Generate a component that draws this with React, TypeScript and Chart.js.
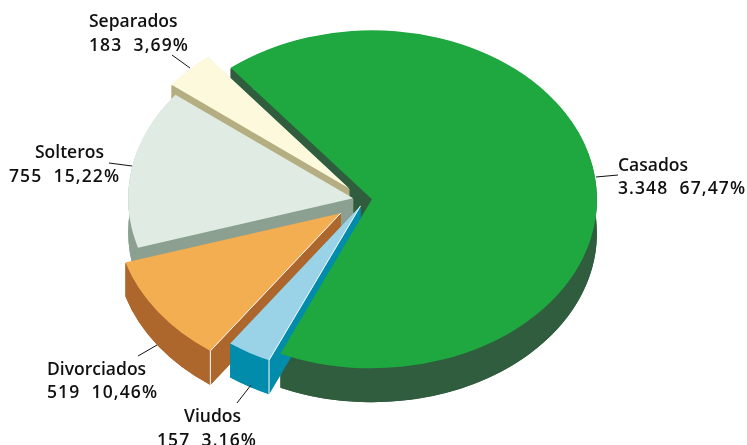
import React, { useEffect, useRef } from "react";
import { Chart, registerables } from "chart.js";

Chart.register(...registerables);

const categories = ["Casados", "Viudos", "Divorciados", "Solteros", "Separados"];
const values = [3348, 157, 519, 755, 183];
const countLabels = ["3.348", "157", "519", "755", "183"];
const percentLabels = ["67,47%", "3,16%", "10,46%", "15,22%", "3,69%"];
const faceColors = ["#1fa83f", "#9ad3e8", "#f4ae52", "#e0ece3", "#fdf9dc"];
const wallColors = ["#2f5d3e", "#008caa", "#ad662b", "#8ba090", "#b5ae82"];
const explode = [7, 9, 30, 12, 22];

const RADIUS = 225;
const TILT = 0.751;
const DEPTH = 34;
const FONT = '600 17.5px "Open Sans"';

// label placement: second-line x, first baseline, second baseline, first-line x
const labelPlaces: [number, number, number, number][] = [
  [618, 171, 194, 618],
  [157, 422, 446, 184],
  [47, 375, 398, 47],
  [9, 158, 182, 35],
  [89, 27, 51, 89],
];
const leaders = [
  [596, 177, 618, 175],
  [237, 403, 251, 385],
  [138, 356, 157, 345],
  [109, 163, 132, 166],
  [172, 55, 190, 68],
];

const pie3d = {
  id: "pie3d",
  beforeDatasetsDraw(chart: any) {
    const ctx = chart.ctx;
    const arcs = chart.getDatasetMeta(0).data;
    const cy = arcs[0].y;

    const tilted = (fn: () => void) => {
      ctx.save();
      ctx.translate(0, cy);
      ctx.scale(1, TILT);
      ctx.translate(0, -cy);
      fn();
      ctx.restore();
    };
    const shift = (a: any, i: number) => {
      const mid = (a.startAngle + a.endAngle) / 2;
      return [a.x + Math.cos(mid) * explode[i], a.y + Math.sin(mid) * explode[i]];
    };
    const wall = (i: number) => {
      const a = arcs[i];
      const [x, y] = shift(a, i);
      const top = 0.6 / TILT;
      const low = DEPTH / TILT;
      tilted(() => {
        ctx.fillStyle = wallColors[i];
        // bottom sector
        ctx.beginPath();
        ctx.moveTo(x, y + low);
        ctx.arc(x, y + low, RADIUS, a.startAngle, a.endAngle);
        ctx.closePath();
        ctx.fill();
        // outer curved band
        ctx.beginPath();
        ctx.arc(x, y + top, RADIUS, a.startAngle, a.endAngle);
        ctx.arc(x, y + low, RADIUS, a.endAngle, a.startAngle, true);
        ctx.closePath();
        ctx.fill();
        // the two radial cut faces
        for (const ang of [a.startAngle, a.endAngle]) {
          const ex = x + Math.cos(ang) * RADIUS;
          const ey = y + Math.sin(ang) * RADIUS;
          ctx.beginPath();
          ctx.moveTo(x, y + top);
          ctx.lineTo(ex, ey + top);
          ctx.lineTo(ex, ey + low);
          ctx.lineTo(x, y + low);
          ctx.closePath();
          ctx.fill();
        }
      });
    };
    const face = (i: number) => {
      const a = arcs[i];
      const { startAngle, endAngle } = a;
      const fix = 1 - Math.sin(Math.min(Math.PI, a.circumference));
      const grow = explode[i] * fix;
      // the arc element grows and narrows itself when offset; undo that
      const widen = grow / (Math.PI * RADIUS) / 2;
      a.outerRadius = RADIUS - grow;
      a.innerRadius = 0;
      a.startAngle = startAngle - widen;
      a.endAngle = endAngle + widen;
      tilted(() => a.draw(ctx));
      a.startAngle = startAngle;
      a.endAngle = endAngle;
    };
    const rim = (i: number) => {
      const a = arcs[i];
      const [x, y] = shift(a, i);
      const ex = x + Math.cos(a.startAngle) * RADIUS;
      const ey = cy + (y + Math.sin(a.startAngle) * RADIUS - cy) * TILT;
      const ty = cy + (y - cy) * TILT;
      ctx.save();
      ctx.strokeStyle = "#ffffff";
      ctx.lineWidth = 1;
      ctx.beginPath();
      ctx.moveTo(x, ty);
      ctx.lineTo(ex, ey);
      ctx.lineTo(ex, ey + DEPTH);
      ctx.stroke();
      ctx.restore();
    };

    wall(0);
    wall(4);
    face(4);
    wall(3);
    face(3);
    wall(2);
    face(2);
    rim(2);
    wall(1);
    face(0);
    face(1);
    rim(1);

    ctx.save();
    ctx.strokeStyle = "#111111";
    ctx.lineWidth = 1;
    for (const [x0, y0, x1, y1] of leaders) {
      ctx.beginPath();
      ctx.moveTo(x0, y0);
      ctx.lineTo(x1, y1);
      ctx.stroke();
    }
    ctx.fillStyle = "#111111";
    ctx.font = FONT;
    ctx.textAlign = "left";
    ctx.textBaseline = "alphabetic";
    categories.forEach((name, i) => {
      const [x, y1, y2, nameX] = labelPlaces[i];
      ctx.letterSpacing = "0px";
      ctx.fillText(name, nameX, y1);
      ctx.letterSpacing = "1.1px";
      ctx.fillText(countLabels[i] + "  " + percentLabels[i], x, y2);
    });
    ctx.restore();
    return false;
  },
};

export default function App() {
  const ref = useRef<HTMLCanvasElement>(null);
  useEffect(() => {
    document.body.style.margin = "0";
    const chart = new Chart(ref.current!, {
      type: "pie",
      data: {
        labels: categories,
        datasets: [
          {
            data: values,
            backgroundColor: faceColors,
            borderWidth: 0,
            offset: explode.map((e) => e * 4),
          },
        ],
      },
      options: {
        responsive: false,
        animation: false,
        events: [],
        rotation: -38.9,
        radius: RADIUS,
        layout: { padding: { left: 0, right: 17, top: 0, bottom: 45 } },
        plugins: { legend: { display: false }, tooltip: { enabled: false } },
      },
      plugins: [pie3d],
    } as any);
    return () => chart.destroy();
  }, []);
  return <canvas ref={ref} width={747} height={445} style={{ display: "block" }} />;
}
